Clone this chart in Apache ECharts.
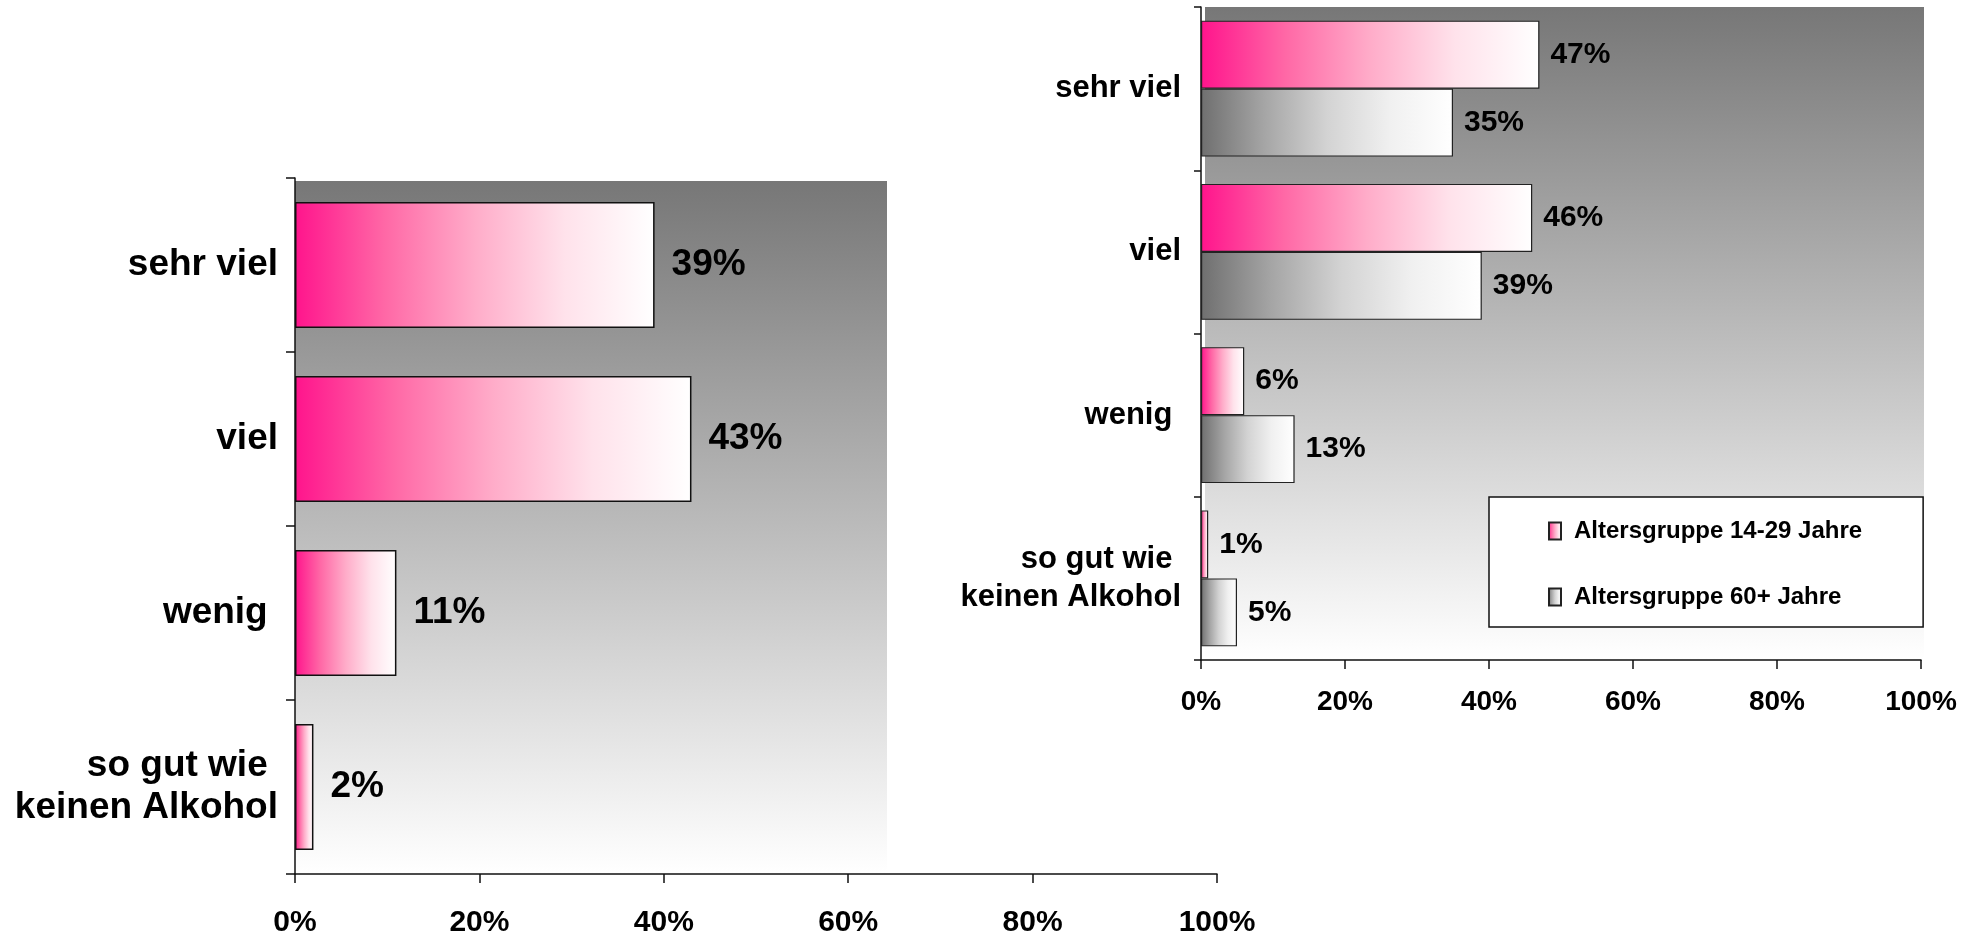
<!DOCTYPE html>
<html>
<head>
<meta charset="utf-8">
<script src="https://cdn.jsdelivr.net/npm/echarts@6/dist/echarts.min.js"></script>
<style>
html,body{margin:0;padding:0;background:#fff;}
#c{width:1978px;height:939px;}
</style>
</head>
<body>
<div id="c"></div>
<script>
// ---- data ----
const categories = ['sehr viel', 'viel', 'wenig ', 'so gut wie \nkeinen Alkohol'];
const leftValues = [39, 43, 11, 2];
const seriesNames = ['Altersgruppe 14-29 Jahre', 'Altersgruppe 60+ Jahre'];
const youngValues = [47, 46, 6, 1];
const oldValues = [35, 39, 13, 5];
const axisMin = 0, axisMax = 100, axisStep = 20;

// ---- styles ----
const SANS = "'Liberation Sans', Arial, sans-serif";
function pinkGrad() {
  return new echarts.graphic.LinearGradient(0, 0, 1, 0, [
    {offset: 0, color: '#ff148c'}, {offset: 0.25, color: '#ff68a6'},
    {offset: 0.5, color: '#ffacc9'}, {offset: 0.75, color: '#ffe2eb'},
    {offset: 1, color: '#ffffff'}]);
}
function grayGrad() {
  return new echarts.graphic.LinearGradient(0, 0, 1, 0, [
    {offset: 0, color: '#6f6f6f'}, {offset: 0.25, color: '#a5a5a5'},
    {offset: 0.5, color: '#d3d3d3'}, {offset: 0.75, color: '#f0f0f0'},
    {offset: 1, color: '#ffffff'}]);
}
function bgGrad() {
  return new echarts.graphic.LinearGradient(0, 0, 0, 1, [
    {offset: 0, color: '#777777'}, {offset: 1, color: '#ffffff'}]);
}

const chart = echarts.init(document.getElementById('c'), null, {renderer: 'canvas'});

function valueAxis(gridIndex, fontSize, margin) {
  return {
    type: 'value', gridIndex: gridIndex, min: axisMin, max: axisMax, interval: axisStep,
    axisLine: {show: true, lineStyle: {color: '#111', width: 1.5}},
    axisTick: {show: true, length: 9, lineStyle: {color: '#111', width: 1.5}},
    splitLine: {show: false},
    axisLabel: {formatter: '{value}%', color: '#000', fontWeight: 'bold',
      fontFamily: SANS, fontSize: fontSize, margin: margin}
  };
}
function catAxis(gridIndex, fontSize, lineHeight, margin, tickLen) {
  return {
    type: 'category', gridIndex: gridIndex, data: categories, inverse: true,
    axisLine: {show: true, lineStyle: {color: '#111', width: 1.5}},
    axisTick: {show: true, length: tickLen, lineStyle: {color: '#111', width: 1.5}},
    axisLabel: {color: '#000', fontWeight: 'bold', fontFamily: SANS,
      fontSize: fontSize, lineHeight: lineHeight, margin: margin, align: 'right'}
  };
}

const option = {
  animation: false,
  backgroundColor: '#ffffff',
  graphic: [
    {type: 'rect', z: -10, silent: true, shape: {x: 295, y: 181, width: 592, height: 692},
     style: {fill: bgGrad()}},
    {type: 'rect', z: -10, silent: true, shape: {x: 1205, y: 7, width: 719, height: 652},
     style: {fill: bgGrad()}}
  ],
  grid: [
    {left: 295, top: 178, width: 922, height: 696, containLabel: false},
    {left: 1201, top: 7, width: 720, height: 653, containLabel: false}
  ],
  xAxis: [
    valueAxis(0, 30, 34),
    valueAxis(1, 28, 28)
  ],
  yAxis: [
    catAxis(0, 37, 42, 17, 9),
    catAxis(1, 31, 38, 20, 7)
  ],
  legend: {
    orient: 'vertical', left: 1489, top: 497,
    data: seriesNames,
    backgroundColor: '#ffffff', borderColor: '#111', borderWidth: 1.5,
    padding: [19, 61, 15, 59], itemGap: 36,
    itemWidth: 12, itemHeight: 17, icon: 'rect',
    textStyle: {color: '#000', fontWeight: 'bold', fontFamily: SANS, fontSize: 24,
      lineHeight: 30, padding: [0, 0, 0, 8]}
  },
  series: [
    {
      name: 'gesamt', type: 'bar', xAxisIndex: 0, yAxisIndex: 0, data: leftValues,
      barCategoryGap: '27.6%',
      itemStyle: {color: pinkGrad(), borderColor: '#111', borderWidth: 1.5},
      label: {show: true, position: 'right', distance: 17, formatter: '{c}%',
        color: '#000', fontWeight: 'bold', fontFamily: SANS, fontSize: 37}
    },
    {
      name: seriesNames[0], type: 'bar', xAxisIndex: 1, yAxisIndex: 1, data: youngValues,
      barGap: '0%', barCategoryGap: '16.7%',
      itemStyle: {color: pinkGrad(), borderColor: '#222', borderWidth: 1.2},
      label: {show: true, position: 'right', distance: 11, formatter: '{c}%',
        color: '#000', fontWeight: 'bold', fontFamily: SANS, fontSize: 30}
    },
    {
      name: seriesNames[1], type: 'bar', xAxisIndex: 1, yAxisIndex: 1, data: oldValues,
      barGap: '0%', barCategoryGap: '16.7%',
      itemStyle: {color: grayGrad(), borderColor: '#222', borderWidth: 1.2},
      label: {show: true, position: 'right', distance: 11, formatter: '{c}%',
        color: '#000', fontWeight: 'bold', fontFamily: SANS, fontSize: 30}
    }
  ]
};
chart.setOption(option);
</script>
</body>
</html>
